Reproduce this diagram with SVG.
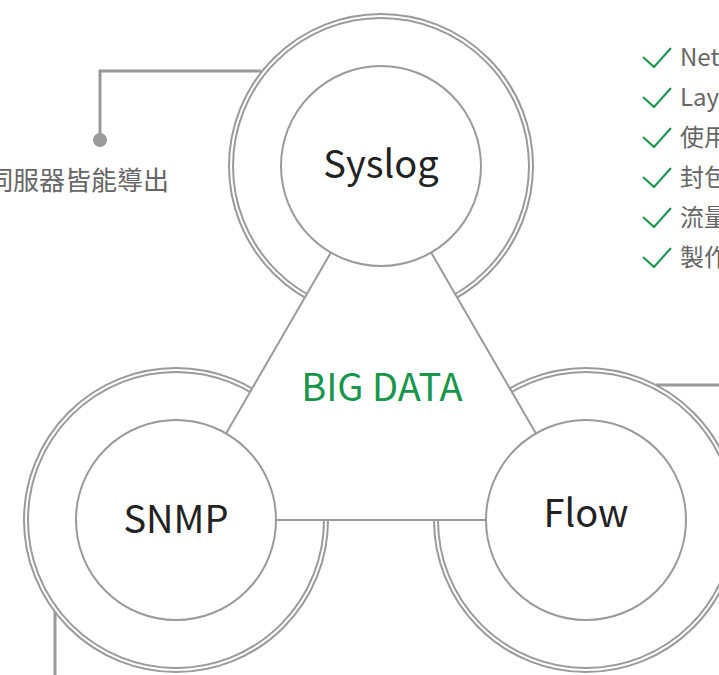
<svg xmlns="http://www.w3.org/2000/svg" width="719" height="675" viewBox="0 0 719 675">
  <style>
    .ring-o { fill: none; stroke: #9a9a9c; stroke-width: 6; }
    .ring-i { fill: none; stroke: #ffffff; stroke-width: 2; }
    .inner { fill: #ffffff; stroke: #9a9a9c; stroke-width: 2; }
    .tri { fill: #ffffff; stroke: #9a9a9c; stroke-width: 2; stroke-linejoin: round; }
    .conn { fill: none; stroke: #9a9a9c; stroke-width: 3; }
    .label { font-family: "Noto Sans CJK TC", "Noto Sans", sans-serif; font-size: 38px; fill: #222222; text-anchor: middle; }
    .big { font-family: "Noto Sans CJK TC", "Noto Sans", sans-serif; font-size: 38px; fill: #17954a; text-anchor: middle; }
    .note { font-family: "Noto Sans CJK TC", "Noto Sans", sans-serif; font-size: 24px; fill: #666666; }
    .note-left { font-family: "Noto Sans CJK TC", "Noto Sans", sans-serif; font-size: 26px; fill: #666666; text-anchor: end; }
    .check { fill: none; stroke: #17954a; stroke-width: 2; stroke-linejoin: miter; }
  </style>
  <rect width="719" height="675" fill="#ffffff"/>

  <g id="rings">
    <circle class="ring-o" cx="381" cy="166" r="150"/>
    <circle class="ring-i" cx="381" cy="166" r="150"/>
    <circle class="ring-o" cx="176" cy="520" r="150"/>
    <circle class="ring-i" cx="176" cy="520" r="150"/>
    <circle class="ring-o" cx="586" cy="520" r="150"/>
    <circle class="ring-i" cx="586" cy="520" r="150"/>
  </g>

  <g id="connectors">
    <polygon class="tri" points="381,166 176,520 586,520"/>
    <polyline class="conn" points="100,140 100,71 261,71"/>
    <circle cx="100" cy="140" r="7" fill="#9a9a9c"/>
    <line class="conn" x1="656" y1="385" x2="719" y2="385"/>
    <line class="conn" x1="55" y1="612" x2="55" y2="675"/>
  </g>

  <g id="bigdata">
    <text class="big" x="382" y="401">BIG DATA</text>
  </g>

  <g id="syslog">
    <circle class="inner" cx="381" cy="166" r="100"/>
    <text class="label" x="381" y="178">Syslog</text>
  </g>

  <g id="snmp">
    <circle class="inner" cx="176" cy="520" r="100"/>
    <text class="label" x="176" y="533">SNMP</text>
  </g>

  <g id="flow">
    <circle class="inner" cx="586" cy="520" r="100"/>
    <text class="label" x="586" y="527">Flow</text>
  </g>

  <g id="note-left">
    <text class="note-left" x="169" y="190">伺服器皆能導出</text>
  </g>

  <g id="checklist">
    <polyline class="check" points="643,57 654,67 671,48"/>
    <text class="note" x="680" y="66">NetFlow</text>
    <polyline class="check" points="643,97 654,107 671,88"/>
    <text class="note" x="680" y="106">Layer</text>
    <polyline class="check" points="643,137 654,147 671,128"/>
    <text class="note" x="680" y="146">使用</text>
    <polyline class="check" points="643,177 654,187 671,168"/>
    <text class="note" x="680" y="186">封包</text>
    <polyline class="check" points="643,217 654,227 671,208"/>
    <text class="note" x="680" y="226">流量</text>
    <polyline class="check" points="643,257 654,267 671,248"/>
    <text class="note" x="680" y="266">製作</text>
  </g>
</svg>
